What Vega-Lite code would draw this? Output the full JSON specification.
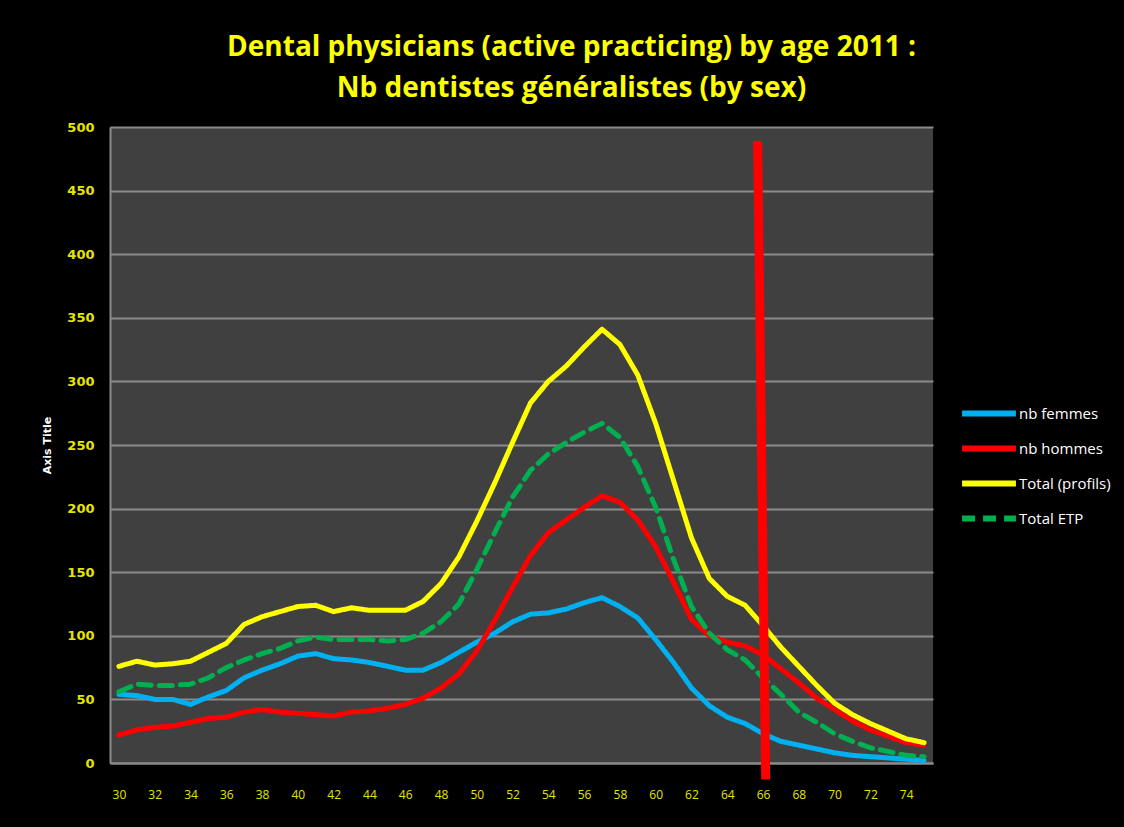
{
  "$schema": "https://vega.github.io/schema/vega-lite/v6.json",
  "width": 823,
  "height": 636,
  "autosize": {"type": "none"},
  "padding": {"left": 110, "top": 127, "right": 191, "bottom": 64},
  "background": "#000000",
  "title": {
    "text": ["Dental physicians (active practicing) by age 2011 :", "Nb  dentistes généralistes (by sex)"],
    "color": "#FFFF00",
    "font": "Open Sans, sans-serif",
    "fontSize": 28,
    "fontWeight": "bold",
    "lineHeight": 41,
    "anchor": "middle",
    "frame": "group",
    "dx": 50,
    "offset": 18
  },
  "config": {
    "view": {"fill": "#404040", "stroke": null},
    "legend": {
      "orient": "none",
      "legendX": 849,
      "legendY": 270,
      "symbolType": "stroke",
      "symbolSize": 2900,
      "symbolStrokeWidth": 6,
      "labelColor": "#FFFFFF",
      "labelFont": "Open Sans, sans-serif",
      "labelFontSize": 15,
      "labelOffset": 0,
      "clipHeight": 33,
      "rowPadding": 2,
      "title": null
    }
  },
  "resolve": {"scale": {"x": "independent"}, "axis": {"x": "independent"}},
  "layer": [
    {
      "data": {
        "values": [
          {"age":30,"serie":"nb femmes","n":54},{"age":31,"serie":"nb femmes","n":53},{"age":32,"serie":"nb femmes","n":50},{"age":33,"serie":"nb femmes","n":50},{"age":34,"serie":"nb femmes","n":46},{"age":35,"serie":"nb femmes","n":52},{"age":36,"serie":"nb femmes","n":57},{"age":37,"serie":"nb femmes","n":67},{"age":38,"serie":"nb femmes","n":73},{"age":39,"serie":"nb femmes","n":78},{"age":40,"serie":"nb femmes","n":84},{"age":41,"serie":"nb femmes","n":86},{"age":42,"serie":"nb femmes","n":82},{"age":43,"serie":"nb femmes","n":81},{"age":44,"serie":"nb femmes","n":79},{"age":45,"serie":"nb femmes","n":76},{"age":46,"serie":"nb femmes","n":73},{"age":47,"serie":"nb femmes","n":73},{"age":48,"serie":"nb femmes","n":79},{"age":49,"serie":"nb femmes","n":87},{"age":50,"serie":"nb femmes","n":95},{"age":51,"serie":"nb femmes","n":102},{"age":52,"serie":"nb femmes","n":111},{"age":53,"serie":"nb femmes","n":117},{"age":54,"serie":"nb femmes","n":118},{"age":55,"serie":"nb femmes","n":121},{"age":56,"serie":"nb femmes","n":126},{"age":57,"serie":"nb femmes","n":130},{"age":58,"serie":"nb femmes","n":123},{"age":59,"serie":"nb femmes","n":114},{"age":60,"serie":"nb femmes","n":97},{"age":61,"serie":"nb femmes","n":79},{"age":62,"serie":"nb femmes","n":59},{"age":63,"serie":"nb femmes","n":45},{"age":64,"serie":"nb femmes","n":36},{"age":65,"serie":"nb femmes","n":31},{"age":66,"serie":"nb femmes","n":23},{"age":67,"serie":"nb femmes","n":17},{"age":68,"serie":"nb femmes","n":14},{"age":69,"serie":"nb femmes","n":11},{"age":70,"serie":"nb femmes","n":8},{"age":71,"serie":"nb femmes","n":6},{"age":72,"serie":"nb femmes","n":5},{"age":73,"serie":"nb femmes","n":4},{"age":74,"serie":"nb femmes","n":3},{"age":75,"serie":"nb femmes","n":2},
          {"age":30,"serie":"nb hommes","n":22},{"age":31,"serie":"nb hommes","n":26},{"age":32,"serie":"nb hommes","n":28},{"age":33,"serie":"nb hommes","n":29},{"age":34,"serie":"nb hommes","n":32},{"age":35,"serie":"nb hommes","n":35},{"age":36,"serie":"nb hommes","n":36},{"age":37,"serie":"nb hommes","n":40},{"age":38,"serie":"nb hommes","n":42},{"age":39,"serie":"nb hommes","n":40},{"age":40,"serie":"nb hommes","n":39},{"age":41,"serie":"nb hommes","n":38},{"age":42,"serie":"nb hommes","n":37},{"age":43,"serie":"nb hommes","n":40},{"age":44,"serie":"nb hommes","n":41},{"age":45,"serie":"nb hommes","n":43},{"age":46,"serie":"nb hommes","n":46},{"age":47,"serie":"nb hommes","n":51},{"age":48,"serie":"nb hommes","n":59},{"age":49,"serie":"nb hommes","n":70},{"age":50,"serie":"nb hommes","n":88},{"age":51,"serie":"nb hommes","n":112},{"age":52,"serie":"nb hommes","n":138},{"age":53,"serie":"nb hommes","n":163},{"age":54,"serie":"nb hommes","n":181},{"age":55,"serie":"nb hommes","n":191},{"age":56,"serie":"nb hommes","n":201},{"age":57,"serie":"nb hommes","n":210},{"age":58,"serie":"nb hommes","n":205},{"age":59,"serie":"nb hommes","n":191},{"age":60,"serie":"nb hommes","n":170},{"age":61,"serie":"nb hommes","n":142},{"age":62,"serie":"nb hommes","n":113},{"age":63,"serie":"nb hommes","n":100},{"age":64,"serie":"nb hommes","n":95},{"age":65,"serie":"nb hommes","n":92},{"age":66,"serie":"nb hommes","n":85},{"age":67,"serie":"nb hommes","n":74},{"age":68,"serie":"nb hommes","n":63},{"age":69,"serie":"nb hommes","n":51},{"age":70,"serie":"nb hommes","n":42},{"age":71,"serie":"nb hommes","n":33},{"age":72,"serie":"nb hommes","n":26},{"age":73,"serie":"nb hommes","n":21},{"age":74,"serie":"nb hommes","n":16},{"age":75,"serie":"nb hommes","n":14},
          {"age":30,"serie":"Total (profils)","n":76},{"age":31,"serie":"Total (profils)","n":80},{"age":32,"serie":"Total (profils)","n":77},{"age":33,"serie":"Total (profils)","n":78},{"age":34,"serie":"Total (profils)","n":80},{"age":35,"serie":"Total (profils)","n":87},{"age":36,"serie":"Total (profils)","n":94},{"age":37,"serie":"Total (profils)","n":109},{"age":38,"serie":"Total (profils)","n":115},{"age":39,"serie":"Total (profils)","n":119},{"age":40,"serie":"Total (profils)","n":123},{"age":41,"serie":"Total (profils)","n":124},{"age":42,"serie":"Total (profils)","n":119},{"age":43,"serie":"Total (profils)","n":122},{"age":44,"serie":"Total (profils)","n":120},{"age":45,"serie":"Total (profils)","n":120},{"age":46,"serie":"Total (profils)","n":120},{"age":47,"serie":"Total (profils)","n":127},{"age":48,"serie":"Total (profils)","n":141},{"age":49,"serie":"Total (profils)","n":162},{"age":50,"serie":"Total (profils)","n":190},{"age":51,"serie":"Total (profils)","n":220},{"age":52,"serie":"Total (profils)","n":252},{"age":53,"serie":"Total (profils)","n":283},{"age":54,"serie":"Total (profils)","n":300},{"age":55,"serie":"Total (profils)","n":312},{"age":56,"serie":"Total (profils)","n":327},{"age":57,"serie":"Total (profils)","n":341},{"age":58,"serie":"Total (profils)","n":329},{"age":59,"serie":"Total (profils)","n":305},{"age":60,"serie":"Total (profils)","n":267},{"age":61,"serie":"Total (profils)","n":222},{"age":62,"serie":"Total (profils)","n":177},{"age":63,"serie":"Total (profils)","n":145},{"age":64,"serie":"Total (profils)","n":131},{"age":65,"serie":"Total (profils)","n":124},{"age":66,"serie":"Total (profils)","n":108},{"age":67,"serie":"Total (profils)","n":91},{"age":68,"serie":"Total (profils)","n":76},{"age":69,"serie":"Total (profils)","n":61},{"age":70,"serie":"Total (profils)","n":47},{"age":71,"serie":"Total (profils)","n":38},{"age":72,"serie":"Total (profils)","n":31},{"age":73,"serie":"Total (profils)","n":25},{"age":74,"serie":"Total (profils)","n":19},{"age":75,"serie":"Total (profils)","n":16},
          {"age":30,"serie":"Total ETP","n":56},{"age":31,"serie":"Total ETP","n":62},{"age":32,"serie":"Total ETP","n":61},{"age":33,"serie":"Total ETP","n":61},{"age":34,"serie":"Total ETP","n":62},{"age":35,"serie":"Total ETP","n":67},{"age":36,"serie":"Total ETP","n":75},{"age":37,"serie":"Total ETP","n":81},{"age":38,"serie":"Total ETP","n":86},{"age":39,"serie":"Total ETP","n":90},{"age":40,"serie":"Total ETP","n":96},{"age":41,"serie":"Total ETP","n":99},{"age":42,"serie":"Total ETP","n":97},{"age":43,"serie":"Total ETP","n":97},{"age":44,"serie":"Total ETP","n":97},{"age":45,"serie":"Total ETP","n":96},{"age":46,"serie":"Total ETP","n":97},{"age":47,"serie":"Total ETP","n":102},{"age":48,"serie":"Total ETP","n":111},{"age":49,"serie":"Total ETP","n":125},{"age":50,"serie":"Total ETP","n":152},{"age":51,"serie":"Total ETP","n":181},{"age":52,"serie":"Total ETP","n":209},{"age":53,"serie":"Total ETP","n":230},{"age":54,"serie":"Total ETP","n":243},{"age":55,"serie":"Total ETP","n":252},{"age":56,"serie":"Total ETP","n":260},{"age":57,"serie":"Total ETP","n":267},{"age":58,"serie":"Total ETP","n":256},{"age":59,"serie":"Total ETP","n":233},{"age":60,"serie":"Total ETP","n":201},{"age":61,"serie":"Total ETP","n":160},{"age":62,"serie":"Total ETP","n":123},{"age":63,"serie":"Total ETP","n":102},{"age":64,"serie":"Total ETP","n":89},{"age":65,"serie":"Total ETP","n":81},{"age":66,"serie":"Total ETP","n":67},{"age":67,"serie":"Total ETP","n":54},{"age":68,"serie":"Total ETP","n":40},{"age":69,"serie":"Total ETP","n":32},{"age":70,"serie":"Total ETP","n":23},{"age":71,"serie":"Total ETP","n":17},{"age":72,"serie":"Total ETP","n":12},{"age":73,"serie":"Total ETP","n":9},{"age":74,"serie":"Total ETP","n":6},{"age":75,"serie":"Total ETP","n":5}
        ]
      },
      "mark": {"type": "line", "strokeWidth": 5, "strokeCap": "round", "strokeJoin": "round"},
      "encoding": {
        "x": {
          "field": "age",
          "type": "ordinal",
          "scale": {"type": "point", "padding": 0.5},
          "axis": {
            "values": [30,32,34,36,38,40,42,44,46,48,50,52,54,56,58,60,62,64,66,68,70,72,74],
            "labelOverlap": false,
            "labelAngle": 0,
            "grid": false,
            "ticks": false,
            "title": null,
            "labelColor": "#E5E500",
            "labelFont": "Open Sans, sans-serif",
            "labelFontSize": 12,
            "labelFontWeight": "normal",
            "labelPadding": 26,
            "domainColor": "#8C8C8C",
            "domainWidth": 2
          }
        },
        "y": {
          "field": "n",
          "type": "quantitative",
          "scale": {"domain": [0, 500], "nice": false},
          "axis": {
            "values": [0,50,100,150,200,250,300,350,400,450,500],
            "labelOverlap": false,
            "grid": true,
            "gridColor": "#8A8A8A",
            "gridWidth": 2,
            "ticks": false,
            "domainColor": "#8C8C8C",
            "domainWidth": 2,
            "labelColor": "#E5E500",
            "labelFont": "DejaVu Sans, sans-serif",
            "labelFontSize": 13,
            "labelFontWeight": "bold",
            "labelPadding": 16,
            "title": "Axis Title",
            "titleColor": "#FFFFFF",
            "titleFont": "DejaVu Sans, sans-serif",
            "titleFontSize": 11,
            "titleFontWeight": "bold",
            "titlePadding": 14
          }
        },
        "color": {
          "field": "serie",
          "type": "nominal",
          "scale": {
            "domain": ["nb femmes", "nb hommes", "Total (profils)", "Total ETP"],
            "range": ["#00B0F0", "#FF0000", "#FFFF00", "#00B050"]
          },
          "legend": {"title": null}
        },
        "strokeDash": {
          "field": "serie",
          "type": "nominal",
          "scale": {
            "domain": ["nb femmes", "nb hommes", "Total (profils)", "Total ETP"],
            "range": [[1, 0], [1, 0], [1, 0], [13, 8]]
          },
          "legend": {"title": null}
        }
      }
    },
    {
      "data": {"values": [{"x": 65.7, "y": 489, "x2": 66.15, "y2": -13}]},
      "mark": {"type": "rule", "color": "#FF0000", "strokeWidth": 9},
      "encoding": {
        "x": {"field": "x", "type": "quantitative", "scale": {"domain": [29.5, 75.5], "nice": false, "zero": false}, "axis": null},
        "y": {"field": "y", "type": "quantitative"},
        "x2": {"field": "x2"},
        "y2": {"field": "y2"}
      }
    }
  ]
}
